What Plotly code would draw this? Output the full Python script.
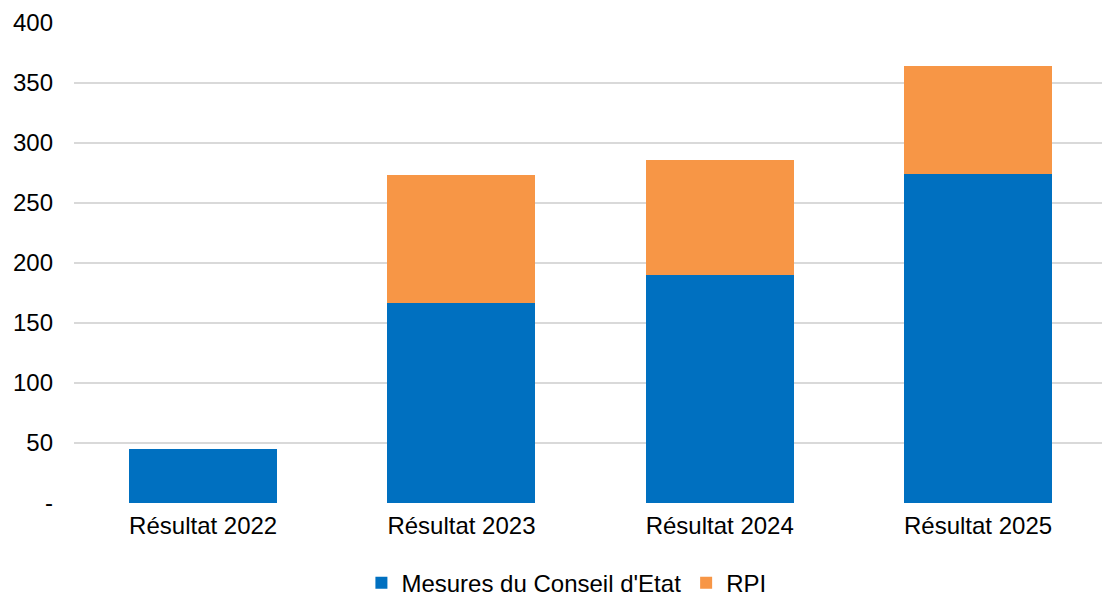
import plotly.graph_objects as go

categories = ["Résultat 2022", "Résultat 2023", "Résultat 2024", "Résultat 2025"]
mesures = [45, 167, 190, 274]
rpi = [0, 106, 95.5, 90]
tick_vals = [0, 50, 100, 150, 200, 250, 300, 350, 400]
tick_text = ["-", "50", "100", "150", "200", "250", "300", "350", "400"]

FONT = "Liberation Sans, Arial, sans-serif"

fig = go.Figure()
fig.add_trace(go.Bar(x=categories, y=mesures, name="Mesures du Conseil d'Etat",
                     marker=dict(color="#0070C0", line=dict(width=0))))
fig.add_trace(go.Bar(x=categories, y=rpi, name="RPI",
                     marker=dict(color="#F79646", line=dict(width=0))))

fig.update_layout(
    width=1102, height=597,
    barmode="stack", bargap=0.427,
    plot_bgcolor="white", paper_bgcolor="white",
    margin=dict(l=74, r=0, t=23, b=94, autoexpand=False),
    font=dict(family=FONT, size=24, color="#000000"),
    showlegend=True,
    legend=dict(orientation="h", x=0.479, xanchor="center", y=-0.167, yanchor="middle",
                font=dict(size=24), itemwidth=30, traceorder="normal"),
    xaxis=dict(range=[-0.5, 3.48], showgrid=False, showline=False, zeroline=False,
               ticks="", tickfont=dict(size=24), ticklabelstandoff=6),
    yaxis=dict(range=[0, 400], tickvals=tick_vals, ticktext=tick_text,
               showgrid=True, gridcolor="#D9D9D9", gridwidth=1.5,
               zeroline=False, showline=False, ticks="",
               ticklabelstandoff=20, tickfont=dict(size=24)),
)
fig.write_html("out.html")
